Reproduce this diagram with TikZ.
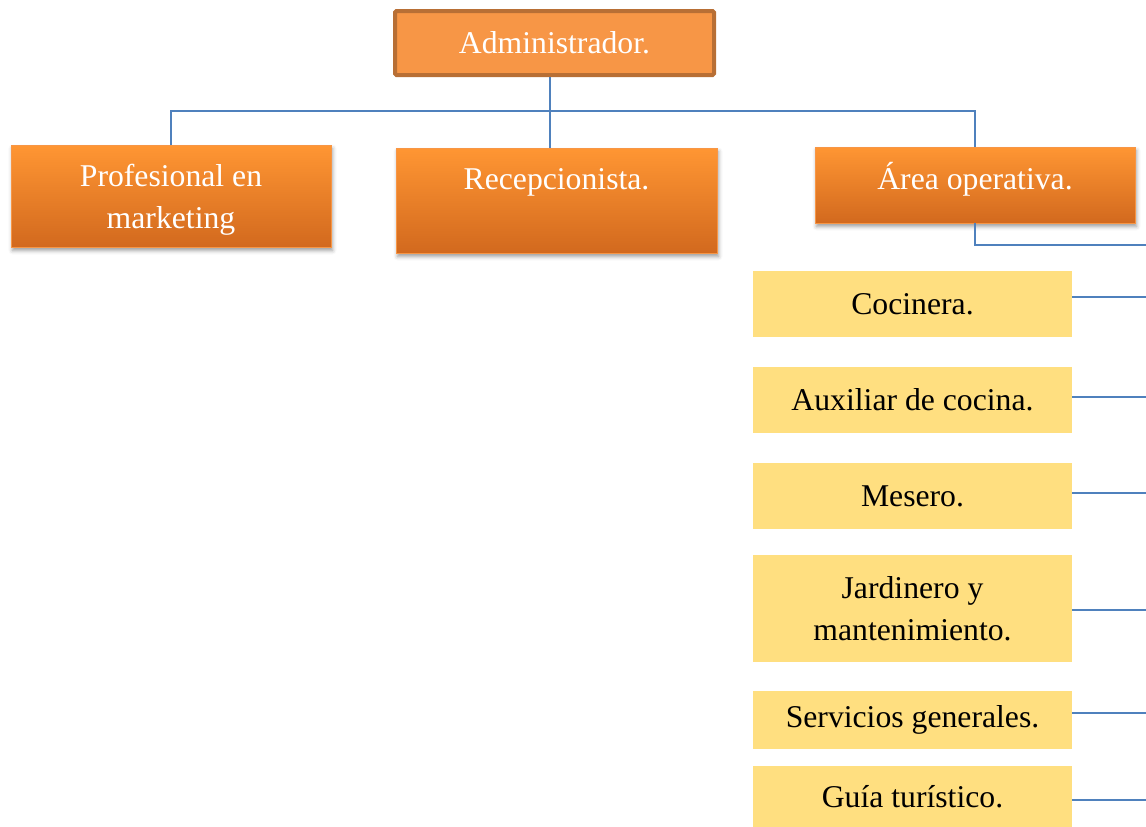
\documentclass[tikz,border=0pt]{standalone}
\usepackage{fontspec}
\setmainfont{Liberation Serif}
\usetikzlibrary{shadows.blur}
\definecolor{lineblue}{HTML}{4F81BD}
\definecolor{admfill}{HTML}{F79646}
\definecolor{admdraw}{HTML}{B86F35}
\definecolor{otop}{HTML}{FF9633}
\definecolor{obot}{HTML}{D2691E}
\definecolor{yfill}{HTML}{FFDF80}
\begin{document}
\begin{tikzpicture}[x=1pt,y=-1pt,
  conn/.style={draw=lineblue, line width=1.9pt},
  bigfont/.style={font=\fontsize{31.7}{42}\selectfont},
  admbox/.style={rectangle, fill=admfill, draw=admdraw, line width=4pt, rounded corners=1.5pt,
    inner sep=0pt, text=white, bigfont},
  obox/.style={rectangle, draw=admfill, line width=0.8pt, top color=otop, bottom color=obot,
    inner sep=0pt, blur shadow={shadow xshift=1.5pt, shadow yshift=-3.5pt, shadow blur radius=4pt, shadow opacity=40}},
  otext/.style={inner sep=0pt, text=white, align=center, bigfont},
  ybox/.style={rectangle, fill=yfill, minimum width=319pt, inner sep=0pt, align=center, text=black, bigfont}
]
\useasboundingbox (0,0) rectangle (1146,827);

% top
\node[admbox, minimum width=319pt, minimum height=64pt] (adm) at (554.5,43) {Administrador.};

% second level
\node[obox, minimum width=320pt, minimum height=102pt] (prof) at (171,196) {};
\node[otext] (proft) at (171,199.5) {Profesional en\\marketing};
\node[obox, minimum width=321pt, minimum height=105pt] (recep) at (556.5,200.5) {};
\node[otext] (recept) at (556.5,182.5) {Recepcionista.};
\node[obox, minimum width=320pt, minimum height=76pt] (area) at (975,185) {};
\node[otext] (areat) at (975,179) {Área operativa.};

% operative staff
\node[ybox, minimum height=66pt] (coc) at (912.5,304) {Cocinera.};
\node[ybox, minimum height=66pt] (aux) at (912.5,400) {Auxiliar de cocina.};
\node[ybox, minimum height=66pt] (mes) at (912.5,496) {Mesero.};
\node[ybox, minimum height=107pt] (jar) at (912.5,608.5) {Jardinero y\\mantenimiento.};
\node[ybox, minimum height=58pt] (ser) at (912.5,720) {Servicios generales.};
\node[ybox, minimum height=61pt] (gui) at (912.5,796.5) {Guía turístico.};

% connectors
\coordinate (bus) at (550,111);
\draw[conn] (bus |- adm.south) -- (bus |- recep.north);
\draw[conn] (prof.north) |- (bus) -| (area.north);

\coordinate (r0) at (1146,245);
\coordinate (r1) at (1146,297);
\coordinate (r2) at (1146,397);
\coordinate (r3) at (1146,493);
\coordinate (r4) at (1146,610);
\coordinate (r5) at (1146,713);
\coordinate (r6) at (1146,800);
\draw[conn] (area.south) |- (r0);
\draw[conn] (r1 -| coc.east) -- (r1);
\draw[conn] (r2 -| aux.east) -- (r2);
\draw[conn] (r3 -| mes.east) -- (r3);
\draw[conn] (r4 -| jar.east) -- (r4);
\draw[conn] (r5 -| ser.east) -- (r5);
\draw[conn] (r6 -| gui.east) -- (r6);
\end{tikzpicture}
\end{document}
